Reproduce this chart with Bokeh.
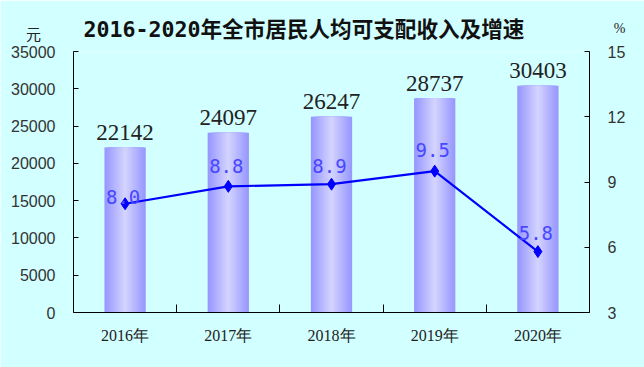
import numpy as np
from bokeh.plotting import figure
from bokeh.models import Range1d, LinearAxis, FixedTicker, ColumnDataSource, Label
from bokeh.core.properties import value
from bokeh.embed import file_html
from bokeh.resources import INLINE

# ---------------- data ----------------
years = ["2016年", "2017年", "2018年", "2019年", "2020年"]
income = [22142, 24097, 26247, 28737, 30403]
growth = [8.0, 8.8, 8.9, 9.5, 5.8]
income_ticks = [0, 5000, 10000, 15000, 20000, 25000, 30000, 35000]
growth_ticks = [3, 6, 9, 12, 15]
title_text = "2016-2020年全市居民人均可支配收入及增速"
left_unit = "元"
right_unit = "%"

# ---------------- style ----------------
BG = "#d2ffff"
BAR_W = 0.4
label_lift = [7, 20, 18, 21, 19]   # px above the points for growth labels

xs = [i + 0.5 for i in range(len(years))]
src = ColumnDataSource(dict(
    x=xs, income=income, growth=growth,
    income_txt=[str(v) for v in income],
    growth_txt=["%.1f" % g for g in growth],
    gdy=[-d for d in label_lift],
))

p = figure(width=644, height=367, output_backend="svg", toolbar_location=None,
           x_range=Range1d(0, len(years)),
           y_range=Range1d(income_ticks[0], income_ticks[-1]),
           min_border_left=73, min_border_right=55, min_border_top=51, min_border_bottom=55,
           background_fill_color=BG, border_fill_color=BG, outline_line_color=None)
p.grid.visible = False
p.extra_y_ranges = {"pct": Range1d(growth_ticks[0], growth_ticks[-1])}

# title
p.title.text = title_text
p.title.text_font = "DejaVu Sans Mono, Noto Sans CJK SC"
p.title.text_font_size = "21.6px"
p.title.text_font_style = "bold"
p.title.text_color = "#111111"
p.title.align = "left"
p.title.offset = 10
p.title.standoff = 19

# x axis
xa = p.xaxis[0]
xa.ticker = FixedTicker(ticks=xs, minor_ticks=[i for i in range(1, len(years))])
xa.major_label_overrides = {x: y for x, y in zip(xs, years)}
xa.major_tick_line_color = None
xa.major_tick_in = 0
xa.major_tick_out = 0
xa.minor_tick_in = 8
xa.minor_tick_out = 0
xa.minor_tick_line_color = "black"
xa.axis_line_color = "black"
xa.major_label_standoff = 14
xa.major_label_text_font = "Liberation Serif"
xa.major_label_text_font_size = "16px"
xa.major_label_text_color = "#222222"

# left y axis
ya = p.yaxis[0]
ya.ticker = FixedTicker(ticks=income_ticks)
ya.major_tick_in = 5
ya.major_tick_out = 0
ya.minor_tick_line_color = None
ya.axis_line_color = "black"
ya.major_tick_line_color = "black"
ya.major_label_standoff = 18
ya.major_label_text_font = "Liberation Sans"
ya.major_label_text_font_size = "16px"
ya.major_label_text_color = "#333333"

# right y axis
ra = LinearAxis(y_range_name="pct", ticker=FixedTicker(ticks=growth_ticks))
ra.major_tick_in = 5
ra.major_tick_out = 0
ra.minor_tick_line_color = None
ra.axis_line_color = "black"
ra.major_tick_line_color = "black"
ra.major_label_standoff = 18
ra.major_label_text_font = "Liberation Sans"
ra.major_label_text_font_size = "16px"
ra.major_label_text_color = "#333333"
p.add_layout(ra, "right")

# gradient bars (nested layers)
edge = np.array([152, 152, 255])
center = np.array([210, 210, 255])
N = 12
for k in range(N):
    t = k / (N - 1)
    c = (edge + (center - edge) * t).astype(int)
    col = "#%02x%02x%02x" % tuple(c)
    p.vbar(x="x", top="income", bottom=0, width=BAR_W * (1 - k / N), source=src,
           fill_color=col, line_color=None)

# bar labels
p.text(x="x", y="income", text="income_txt", source=src, text_align="center",
       text_baseline="alphabetic", y_offset=-15,
       text_font=value("Liberation Serif"), text_font_size="23px", text_color="#222222")

# growth line
p.line(x="x", y="growth", source=src, y_range_name="pct", line_color="#0000ff", line_width=2.2)
p.scatter(x="x", y="growth", source=src, y_range_name="pct", marker="diamond", size=12,
          fill_color="#0000ff", line_color="#0000ff")
p.text(x="x", y="growth", text="growth_txt", source=src, y_range_name="pct",
       text_align="center", text_baseline="alphabetic", y_offset="gdy", x_offset=-2,
       text_font=value("DejaVu Sans Mono"), text_font_size="19px", text_color="#4848ff")

# unit labels, placed in side panels so they are not clipped to the frame
p.add_layout(Label(x=0, y=income_ticks[-1], x_offset=-40, y_offset=18, text=left_unit,
                   text_align="center", text_baseline="middle",
                   text_font="Noto Sans CJK SC", text_font_size="15px", text_color="#222222"),
             "below")
p.add_layout(Label(x=len(years), y=income_ticks[-1], x_offset=30, y_offset=23, text=right_unit,
                   text_align="center", text_baseline="middle",
                   text_font="Liberation Serif", text_font_size="14px", text_color="#222222"),
             "right")

open("out.html", "w").write(file_html(p, INLINE))
